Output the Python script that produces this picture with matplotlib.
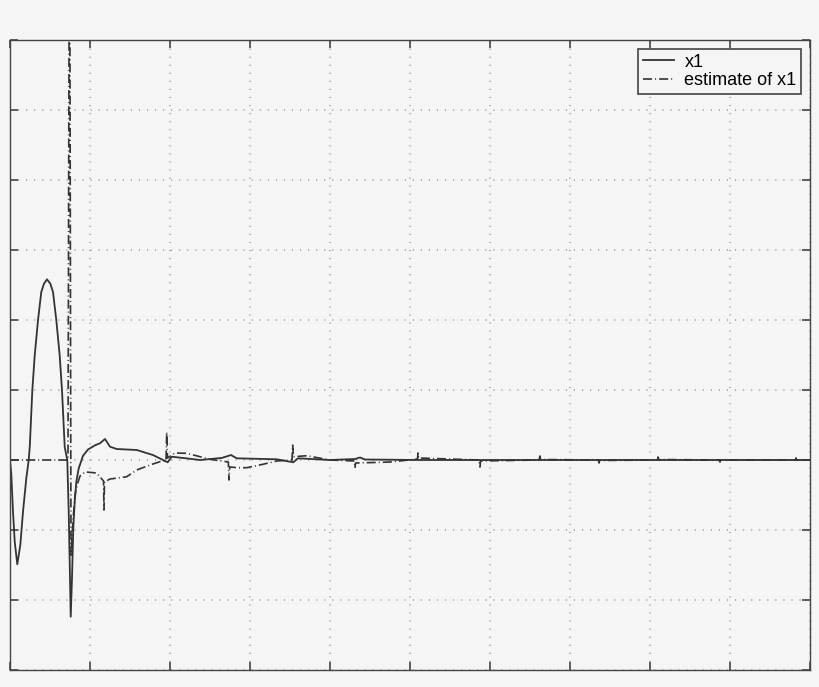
import numpy as np
import matplotlib
matplotlib.use("Agg")
import matplotlib.pyplot as plt

# ---- datos (tiempo, valor) ----
t_x1 = [0.0, 0.016, 0.0375, 0.059, 0.091, 0.129, 0.1625, 0.204, 0.234, 0.2475,
        0.279, 0.309, 0.35, 0.391, 0.425, 0.4625, 0.504, 0.5375, 0.579, 0.621,
        0.65, 0.684, 0.716, 0.734, 0.746, 0.759, 0.775, 0.791, 0.809, 0.829,
        0.859, 0.9125, 0.975, 1.0625, 1.125, 1.1875, 1.25, 1.334, 1.584, 1.7875,
        1.971, 2.021, 2.1625, 2.375, 2.646, 2.7625, 2.834, 3.334, 3.541, 3.6,
        4.0, 4.3125, 4.375, 4.4375, 5.125, 6.0, 7.0, 8.0, 9.0, 10.0]
x1 = [0.0, -0.2, -0.739, -1.167, -1.49, -1.214, -0.739, -0.261, 0.0, 0.2,
      0.996, 1.496, 1.996, 2.4, 2.519, 2.581, 2.519, 2.4, 1.996, 1.496,
      0.996, 0.186, 0.0, -0.739, -1.453, -2.239, -1.686, -0.971, -0.596, -0.31,
      -0.119, 0.06, 0.15, 0.21, 0.239, 0.30, 0.19, 0.157, 0.143, 0.071,
      -0.033, 0.047, 0.029, 0.0, 0.029, 0.071, 0.024, 0.01, -0.033, 0.024,
      0.0, 0.014, 0.036, 0.007, 0.0, 0.0, 0.0, 0.0, 0.0, 0.0]

t_est = [0.0, 0.725, 0.744, 0.7625, 0.7875, 0.8125, 0.8375, 0.875, 0.9375, 1.084,
         1.169, 1.175, 1.181, 1.25, 1.35, 1.459, 1.584, 1.75, 1.875, 1.95,
         1.959, 1.969, 2.0625, 2.209, 2.375, 2.5, 2.729, 2.7375, 2.746, 2.85,
         2.959, 3.1625, 3.334, 3.525, 3.534, 3.543, 3.709, 4.0, 4.306, 4.3125,
         4.319, 4.75, 5.094, 5.1, 5.106, 5.5, 5.8625, 5.875, 5.881, 6.25,
         6.6125, 6.625, 6.631, 7.356, 7.3625, 7.369, 8.094, 8.1, 8.106, 8.8625,
         8.875, 8.881, 9.819, 9.825, 9.831, 10.0]
x1_est = [0.0, 0.0, 9.0, -1.36, -0.86, -0.5, -0.36, -0.23, -0.17, -0.186,
          -0.3, -0.714, -0.314, -0.271, -0.257, -0.239, -0.143, -0.071, -0.024, -0.014,
          0.4, 0.029, 0.1, 0.096, 0.047, 0.01, -0.029, -0.286, -0.1, -0.11,
          -0.11, -0.061, -0.014, 0.0, 0.214, 0.047, 0.061, 0.0, -0.014, -0.114,
          -0.043, -0.029, 0.014, 0.1, 0.029, 0.014, 0.0, -0.1, -0.014, -0.007,
          0.0, 0.057, 0.007, 0.0, -0.043, -0.007, 0.0, 0.043, 0.007, 0.0,
          -0.029, 0.0, 0.0, 0.029, 0.0, 0.0]

plt.rcParams["lines.scale_dashes"] = False
fondo = "#f5f5f5"
fig = plt.figure(figsize=(8.2, 6.87), dpi=100, facecolor=fondo)
ax = fig.add_axes([10/820, 17/687, 800/820, 630/687])
ax.set_facecolor(fondo)

ax.plot(t_x1, x1, "-", color="#333333", lw=1.3, label="x1")
ax.plot(t_est, x1_est, color="#333333", lw=1.2, dashes=[6.5, 2.2, 0.7, 2.2],
        label="estimate of x1")

ax.set_xlim(0, 10)
ax.set_ylim(-3, 6)
ax.set_xticks(np.arange(0, 11, 1))
ax.set_yticks(np.arange(-3, 7, 1))
ax.set_xticklabels([])
ax.set_yticklabels([])
ax.tick_params(direction="in", length=6, width=1.2, color="#444444",
               top=True, right=True)
ax.grid(True, color="#999999", lw=1.1, dashes=[0.8, 5.0])
for s in ax.spines.values():
    s.set_color("#444444")
    s.set_linewidth(1)

leg = ax.legend(loc="upper right", frameon=True, fancybox=False,
                borderpad=0.25, handlelength=1.75, handletextpad=0.55,
                labelspacing=0.1, borderaxespad=0.5,
                prop={"family": "Liberation Sans", "size": 13})
leg.get_frame().set_edgecolor("#444444")
leg.get_frame().set_facecolor(fondo)
leg.get_frame().set_alpha(1)
leg.get_frame().set_linewidth(1.2)

fig.savefig("out.png", dpi=100, facecolor=fondo)
